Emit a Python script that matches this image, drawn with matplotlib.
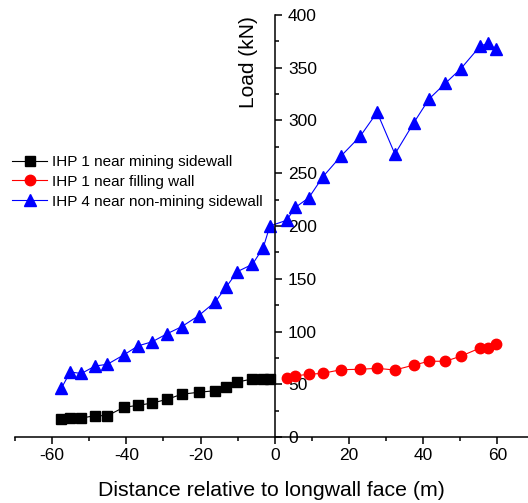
#!/usr/bin/env python
# -*- coding: utf-8 -*-

import matplotlib
matplotlib.use('Agg')
import matplotlib.pyplot as plt
from matplotlib.ticker import MultipleLocator

# distance to the longwall face (m)
dist_behind = [-57.5, -55.1, -52.1, -48.4, -45.1, -40.6, -36.8, -33.0, -29.0,
               -25.1, -20.5, -16.0, -13.0, -10.1, -6.0, -3.1, -1.3]
dist_ahead = [3.2, 5.6, 9.2, 13.0, 17.9, 23.1, 27.6, 32.4, 37.5, 41.6, 46.0,
              50.1, 55.4, 57.5, 59.6]

# load (kN)
ihp1_mining = [16.8, 18.3, 18.0, 20.2, 20.2, 28.2, 30.0, 32.2, 35.7, 40.5,
               42.4, 43.9, 47.4, 52.1, 55.0, 55.0, 55.0]
ihp1_filling = [56.2, 58.1, 59.4, 60.4, 63.8, 64.2, 65.1, 63.5, 68.2, 71.8,
                71.8, 76.5, 84.4, 84.1, 87.9]
ihp4_behind = [46.3, 61.6, 60.2, 67.3, 68.9, 78.0, 86.4, 90.3, 97.9, 104.5,
               115.0, 128.2, 142.5, 156.7, 163.7, 179.4, 200.0]
ihp4_ahead = [205.4, 217.7, 226.8, 246.7, 266.4, 285.3, 307.8, 268.2, 297.9,
              320.4, 335.3, 348.8, 370.6, 373.2, 367.5]

labels = ['IHP 1 near mining sidewall', 'IHP 1 near filling wall',
          'IHP 4 near non-mining sidewall']


def main():
    plt.rcParams['font.family'] = ['Liberation Sans', 'DejaVu Sans']
    plt.rcParams['axes.unicode_minus'] = False

    fig = plt.figure(figsize=(5.28, 5.03), dpi=100)
    ax = fig.add_axes([15 / 528., 66 / 503., 519.4 / 528., 422 / 503.])

    ax.plot(dist_behind, ihp1_mining, color='black', marker='s',
            markersize=6.8, linewidth=0.8, label=labels[0])
    ax.plot(dist_ahead, ihp1_filling, color='red', marker='o',
            markersize=7.5, linewidth=0.8, label=labels[1])
    ax.plot(dist_behind + dist_ahead, ihp4_behind + ihp4_ahead, color='blue',
            marker='^', markersize=8.5, linewidth=0.8, label=labels[2])

    ax.set_xlim(-70, 70)
    ax.set_ylim(0, 400)

    # axes cross at the origin, no box
    ax.spines['left'].set_position(('data', 0))
    ax.spines['bottom'].set_position(('data', 0))
    ax.spines['right'].set_visible(False)
    ax.spines['top'].set_visible(False)
    for side in ['left', 'bottom']:
        ax.spines[side].set_linewidth(1.1)

    ax.xaxis.set_major_locator(MultipleLocator(20))
    ax.xaxis.set_minor_locator(MultipleLocator(10))
    ax.yaxis.set_major_locator(MultipleLocator(50))
    ax.yaxis.set_minor_locator(MultipleLocator(25))

    ax.tick_params(axis='x', which='major', direction='out', length=5,
                   width=1.1, labelsize=12.5, pad=3)
    ax.tick_params(axis='x', which='minor', direction='out', length=3,
                   width=1.1)
    ax.tick_params(axis='y', which='major', direction='in', length=5,
                   width=1.1, labelsize=12.5, pad=-9.5)
    ax.tick_params(axis='y', which='minor', direction='in', length=3,
                   width=1.1)
    for lbl in ax.get_yticklabels():
        lbl.set_horizontalalignment('left')

    ax.set_xlabel('Distance relative to longwall face (m)', fontsize=15.3)
    ax.set_ylabel('Load (kN)', fontsize=15)
    ax.xaxis.set_label_coords(0.494, -0.104)
    ax.yaxis.set_label_coords(0.468, 0.889)

    fig.legend(loc='upper left', bbox_to_anchor=(12 / 528., 1 - 155 / 503.),
               frameon=False, fontsize=11, borderpad=0, borderaxespad=0,
               handlelength=2.3, handletextpad=0.3, labelspacing=0.38)

    plt.savefig('out.png', dpi=100)
    plt.close()


if __name__ == '__main__':
    main()
